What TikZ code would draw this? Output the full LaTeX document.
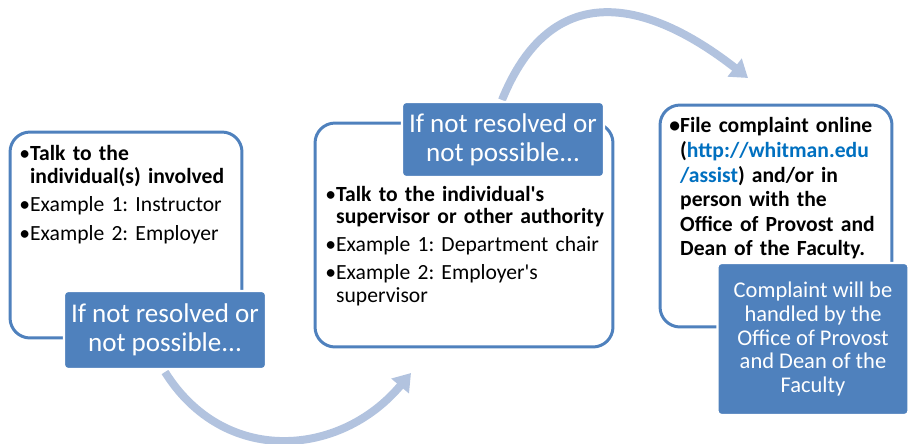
\documentclass[tikz,border=0pt]{standalone}
\usepackage{fontspec}
\setmainfont{Carlito}
\usepackage{tikz}
\usetikzlibrary{arrows.meta}
\definecolor{boxblue}{HTML}{4F81BD}
\definecolor{flowblue}{HTML}{B2C3DF}
\definecolor{linkblue}{HTML}{0070C0}
\newcommand{\bitem}[1]{\par\hangindent=0.5em\hangafter=1\noindent\makebox[0.5em][l]{•}#1}
\tikzset{
  stepframe/.style={draw=boxblue, line width=1.7pt, fill=white, rounded corners=0.4cm},
  steptext/.style={anchor=north west, inner sep=0pt, text width=5cm, align=left,
    font=\fontsize{12.3}{13}\selectfont\frenchspacing},
  note/.style={fill=boxblue, draw=white, line width=1.2pt, rounded corners=0.08cm,
    text=white, align=center, inner sep=2pt},
  flow/.style={draw=flowblue, line width=0.16cm, -{Triangle[width=0.44cm, length=0.34cm]}}
}
\begin{document}
\begin{tikzpicture}[x=0.02cm, y=-0.02cm]
\useasboundingbox (0,0) rectangle (909,443);
%
\coordinate (tip1) at (411,373);
\coordinate (tip2) at (748,78);
%
\node[stepframe, minimum width=4.64cm, minimum height=4.12cm] (box1) at (126,235) {};
\node[stepframe, minimum width=5.96cm, minimum height=4.48cm] (box2) at (464,235) {};
\node[stepframe, minimum width=4.64cm, minimum height=4.44cm] (box3) at (776,216) {};
%
\node[steptext] (text1) at (19,131) {\setlength{\parskip}{3.4pt}%
  \bitem{\textbf{Talk to the\newline individual(s) involved}}
  \bitem{Example 1: Instructor}
  \bitem{Example 2: Employer}\par};
\node[steptext, text width=6cm] (text2) at (325,173) {\setlength{\parskip}{2.8pt}%
  \bitem{\textbf{Talk to the individual\textquotesingle s\newline supervisor or other authority}}
  \bitem{Example 1: Department chair}
  \bitem{Example 2: Employer\textquotesingle s\newline supervisor}\par};
\node[steptext, font=\fontsize{12.3}{14}\selectfont\bfseries] (text3) at (669,108) {%
  \bitem{File complaint online\newline(\textcolor{linkblue}{http://whitman.edu}\newline\textcolor{linkblue}{/assist}) and/or in\newline person with the\newline Office of Provost and\newline Dean of the Faculty.}\par};
%
\draw[flow] (165,372) to[out=-58, in=-130, looseness=1.15] (tip1);
\draw[flow] (502,100) to[out=68, in=142, looseness=1.35] (tip2);
%
\node[note, minimum width=4.04cm, minimum height=1.56cm, font=\fontsize{15.4}{16.5}\selectfont] (lbl1) at (165,330) {If not resolved or\\not possible...};
\node[note, minimum width=4.04cm, minimum height=1.5cm, font=\fontsize{15.4}{16.5}\selectfont] (lbl2) at (503,139.5) {If not resolved or\\not possible...};
\node[note, minimum width=3.82cm, minimum height=3.04cm, font=\fontsize{12.8}{13.4}\selectfont] (lbl3) at (813,339) {Complaint will be\\handled by the\\Office of Provost\\and Dean of the\\Faculty};
\end{tikzpicture}
\end{document}
